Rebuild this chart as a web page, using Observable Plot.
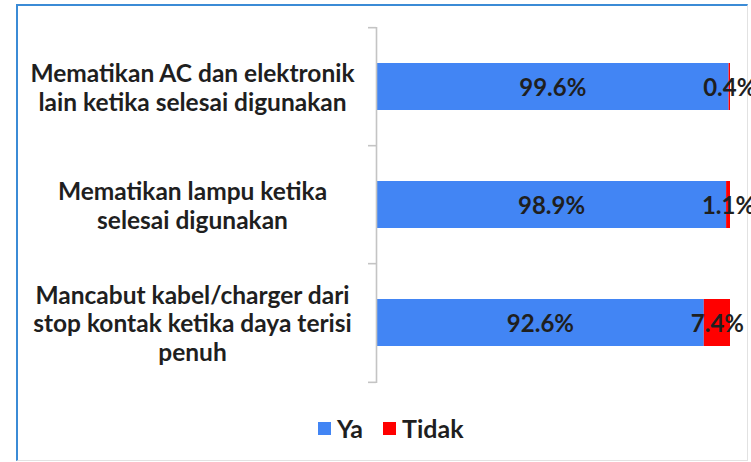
<!DOCTYPE html>
<html>
<head>
<meta charset="utf-8">
<script src="https://cdn.jsdelivr.net/npm/d3@7"></script>
<script src="https://cdn.jsdelivr.net/npm/@observablehq/plot@0.6"></script>
<style>
  html, body { margin: 0; padding: 0; background: #fff; }
  body { width: 751px; height: 462px; position: relative; overflow: hidden; font-family: Lato, "Open Sans", sans-serif; }
  #frame { position: absolute; left: 16px; top: 4px; width: 732px; height: 457px; box-sizing: border-box;
           border-left: 2px solid #3b8bd6; border-top: 2px solid #3b8bd6; border-right: 1px solid #e2e2e2; border-bottom: 1px solid #e2e2e2; }
  #chart { position: absolute; left: 0; top: 0; }
  #legend { position: absolute; left: 318px; top: 415px; height: 26px; display: flex; align-items: center;
            font: bold 25px Lato, sans-serif; color: #1f1f1f; }
  .sw { width: 13px; height: 13px; display: inline-block; margin-right: 6px; }
  .item { display: flex; align-items: center; margin-right: 20px; }
</style>
</head>
<body>
<div id="frame"></div>
<div id="chart"></div>
<div id="legend"></div>
<script>
const categories = [
  "Mematikan AC dan elektronik lain ketika selesai digunakan",
  "Mematikan lampu ketika selesai digunakan",
  "Mancabut kabel/charger dari stop kontak ketika daya terisi penuh"
];
const tickLabels = [
  "Mematikan AC dan elektronik\nlain ketika selesai digunakan",
  "Mematikan lampu ketika\nselesai digunakan",
  "Mancabut kabel/charger dari\nstop kontak ketika daya terisi\npenuh"
];
const series = ["Ya", "Tidak"];
const ya = [99.6, 98.9, 92.6];
const tidak = [0.4, 1.1, 7.4];
const colors = ["#4285f4", "#ff0000"];

const rows = [];
categories.forEach((c, i) => {
  rows.push({cat: c, resp: "Ya", x1: 0, x2: ya[i], value: ya[i]});
  rows.push({cat: c, resp: "Tidak", x1: ya[i], x2: ya[i] + tidak[i], value: tidak[i]});
});

const W = 751, H = 400, mt = 27, mb = 17;
const step = (H - mt - mb) / categories.length;
const textColor = "#1f1f1f";
const axisColor = "#c4c4c4";

const chart = Plot.plot({
  width: W, height: H,
  marginLeft: 376, marginRight: 21, marginTop: mt, marginBottom: mb,
  style: {fontFamily: "Lato, 'Open Sans', sans-serif", background: "transparent"},
  x: {domain: [0, 100], axis: null},
  y: {domain: categories, paddingInner: 0.6, paddingOuter: 0.3, axis: null, label: null},
  color: {domain: series, range: colors},
  marks: [
    Plot.barX(rows, {x1: "x1", x2: "x2", y: "cat", fill: "resp"}),
    Plot.ruleX([0], {stroke: axisColor, strokeWidth: 1.6}),
    Plot.axisY(categories, {tickSize: 8, tickFormat: () => "", label: null, dy: -step / 2, stroke: axisColor, strokeWidth: 1.6}),
    Plot.axisY(categories.slice(-1), {tickSize: 8, tickFormat: () => "", label: null, dy: step / 2, stroke: axisColor, strokeWidth: 1.6}),
    Plot.text(categories, {y: d => d, text: (d, i) => tickLabels[i], frameAnchor: "left", dx: -184, textAnchor: "middle",
      lineHeight: 1.17, fontSize: 24.5, fontWeight: "bold", fill: textColor}),
    Plot.text(rows, {x: d => (d.x1 + d.x2) / 2, y: "cat", text: d => d.value.toFixed(1) + "%", dy: 1,
      fontSize: 24, fontWeight: "bold", fill: textColor})
  ]
});
document.getElementById("chart").appendChild(chart);

const legend = document.getElementById("legend");
series.forEach((s, i) => {
  const item = document.createElement("span");
  item.className = "item";
  const sw = document.createElement("span");
  sw.className = "sw";
  sw.style.background = colors[i];
  item.appendChild(sw);
  item.appendChild(document.createTextNode(s));
  legend.appendChild(item);
});
</script>
</body>
</html>
